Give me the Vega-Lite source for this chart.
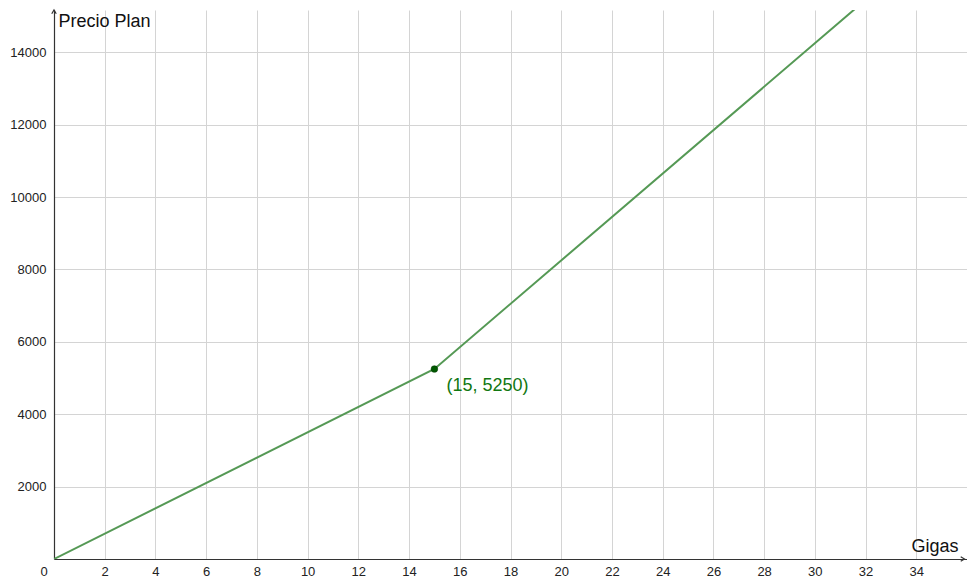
{
  "$schema": "https://vega.github.io/schema/vega-lite/v6.json",
  "width": 913,
  "height": 549,
  "autosize": {"type": "none"},
  "padding": {"left": 54, "top": 10, "right": 0, "bottom": 19},
  "background": "white",
  "config": {
    "view": {"stroke": null},
    "font": "Liberation Sans"
  },
  "datasets": {
    "linea": [
      {"gigas": 0, "precio": 0},
      {"gigas": 15, "precio": 5250},
      {"gigas": 36, "precio": 17850}
    ],
    "punto": [
      {"gigas": 15, "precio": 5250, "etiqueta": "(15, 5250)"}
    ],
    "origen": [
      {"gigas": 0, "precio": 0, "etiqueta": "0"}
    ],
    "flechaY": [{"gigas": 0, "precio": 15170}],
    "flechaX": [{"gigas": 35.9, "precio": 0}]
  },
  "encoding": {
    "x": {
      "field": "gigas",
      "type": "quantitative",
      "scale": {"domain": [0, 36], "nice": false, "zero": false},
      "axis": {
        "values": [2, 4, 6, 8, 10, 12, 14, 16, 18, 20, 22, 24, 26, 28, 30, 32, 34],
        "grid": true,
        "gridColor": "#d4d4d4",
        "gridWidth": 1,
        "ticks": false,
        "domainColor": "#333333",
        "domainWidth": 1.2,
        "labelFontSize": 13,
        "labelColor": "#222222",
        "labelPadding": 6,
        "labelFont": "Liberation Sans",
        "title": "Gigas",
        "titleFontSize": 18,
        "titleFontWeight": "normal",
        "titleColor": "#111111",
        "titleFont": "Liberation Sans",
        "titleX": 904,
        "titleY": -4,
        "titleAlign": "right",
        "titleBaseline": "bottom",
        "titleAnchor": null
      }
    },
    "y": {
      "field": "precio",
      "type": "quantitative",
      "scale": {"domain": [0, 15170], "nice": false, "zero": false},
      "axis": {
        "values": [2000, 4000, 6000, 8000, 10000, 12000, 14000],
        "format": "d",
        "grid": true,
        "gridColor": "#d4d4d4",
        "gridWidth": 1,
        "ticks": false,
        "domainColor": "#333333",
        "domainWidth": 1.2,
        "labelFontSize": 13,
        "labelColor": "#222222",
        "labelPadding": 8,
        "labelFont": "Liberation Sans",
        "title": "Precio Plan",
        "titleFontSize": 18,
        "titleFontWeight": "normal",
        "titleColor": "#111111",
        "titleFont": "Liberation Sans",
        "titleAngle": 0,
        "titleX": 4,
        "titleY": 11,
        "titleAlign": "left",
        "titleBaseline": "middle",
        "titleAnchor": null
      }
    }
  },
  "layer": [
    {
      "data": {"name": "linea"},
      "mark": {"type": "line", "color": "#559955", "strokeWidth": 2, "clip": true}
    },
    {
      "data": {"name": "punto"},
      "mark": {"type": "point", "filled": true, "color": "#005a00", "size": 45, "opacity": 1, "stroke": "#003300", "strokeWidth": 0.5}
    },
    {
      "data": {"name": "punto"},
      "mark": {"type": "text", "align": "left", "baseline": "middle", "dx": 12, "dy": 17, "fontSize": 18, "color": "#117711", "font": "Liberation Sans"},
      "encoding": {"text": {"field": "etiqueta"}}
    },
    {
      "data": {"name": "origen"},
      "mark": {"type": "text", "align": "center", "baseline": "middle", "dx": -10, "dy": 13, "fontSize": 13, "color": "#222222", "font": "Liberation Sans"},
      "encoding": {"text": {"field": "etiqueta"}}
    },
    {
      "data": {"name": "flechaY"},
      "mark": {"type": "point", "shape": "M -0.6 1 L 0 0 L 0.6 1", "size": 56, "filled": false, "stroke": "#333333", "strokeWidth": 1.2, "opacity": 1}
    },
    {
      "data": {"name": "flechaX"},
      "mark": {"type": "point", "shape": "M -1 -0.6 L 0 0 L -1 0.6", "size": 56, "filled": false, "stroke": "#333333", "strokeWidth": 1.2, "opacity": 1}
    }
  ]
}
